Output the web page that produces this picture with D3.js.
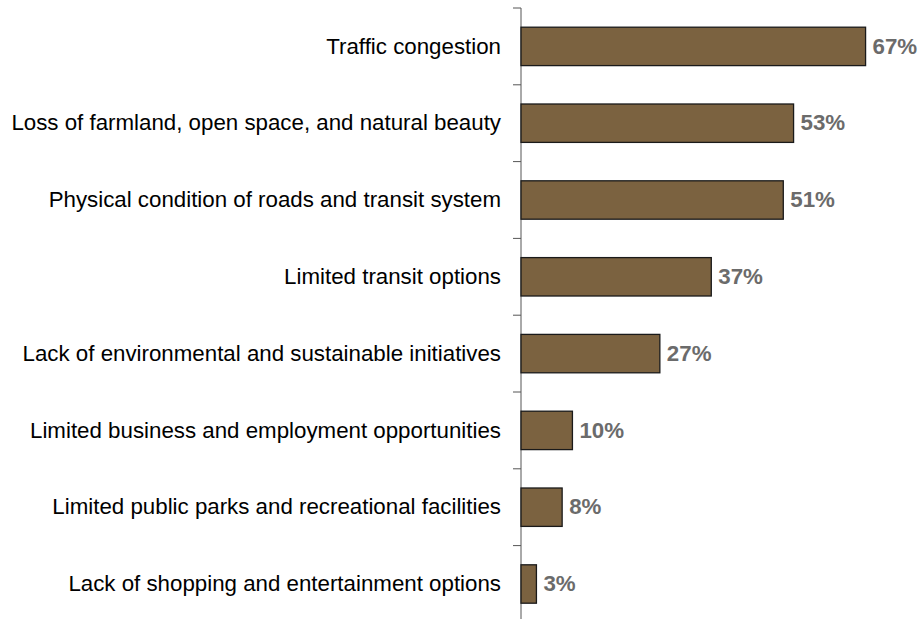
<!DOCTYPE html>
<html>
<head>
<meta charset="utf-8">
<script src="https://cdn.jsdelivr.net/npm/d3@7/dist/d3.min.js"></script>
<style>
  html, body { margin: 0; padding: 0; background: #fff; }
  svg { display: block; }
  .cat { font-family: "Liberation Sans", Arial, sans-serif; font-size: 22.3px; fill: #000; }
  .val { font-family: "Liberation Sans", Arial, sans-serif; font-size: 22.3px; font-weight: bold; fill: #6b6b6b; }
</style>
</head>
<body>
<svg id="chart" width="921" height="619"></svg>
<script>
// Survey concerns, share of respondents
const categories = [
  "Traffic congestion",
  "Loss of farmland, open space, and natural beauty",
  "Physical condition of roads and transit system",
  "Limited transit options",
  "Lack of environmental and sustainable initiatives",
  "Limited business and employment opportunities",
  "Limited public parks and recreational facilities",
  "Lack of shopping and entertainment options"
];
const values = [67, 53, 51, 37, 27, 10, 8, 3];
const valueLabels = ["67%", "53%", "51%", "37%", "27%", "10%", "8%", "3%"];

const svg = d3.select("#chart");
const axisX = 521, axisTop = 8, band = 76.8;

const x = d3.scaleLinear().domain([0, 70]).range([axisX, axisX + 360]);
const y = d3.scaleBand()
  .domain(categories)
  .range([axisTop, axisTop + band * categories.length])
  .paddingInner(0.5)
  .paddingOuter(0.25);

// category axis: vertical line with ticks at band boundaries
const g = svg.append("g");
g.append("line")
  .attr("x1", axisX).attr("x2", axisX)
  .attr("y1", y.range()[0]).attr("y2", y.range()[1])
  .attr("stroke", "#555").attr("stroke-width", 1);
g.selectAll("line.tick")
  .data(d3.range(categories.length + 1))
  .join("line")
  .attr("class", "tick")
  .attr("x1", axisX - 8).attr("x2", axisX)
  .attr("y1", i => axisTop + i * band).attr("y2", i => axisTop + i * band)
  .attr("stroke", "#555").attr("stroke-width", 1);

// bars
svg.append("g").selectAll("rect")
  .data(values)
  .join("rect")
  .attr("x", x(0))
  .attr("y", (d, i) => y(categories[i]))
  .attr("width", d => x(d) - x(0))
  .attr("height", y.bandwidth())
  .attr("fill", "#7b6240")
  .attr("stroke", "#1a1a1a")
  .attr("stroke-width", 1.3);

// category labels
svg.append("g").selectAll("text")
  .data(categories)
  .join("text")
  .attr("class", "cat")
  .attr("x", 501)
  .attr("y", d => y(d) + y.bandwidth() / 2)
  .attr("dy", "0.32em")
  .attr("text-anchor", "end")
  .text(d => d);

// value labels
svg.append("g").selectAll("text")
  .data(values)
  .join("text")
  .attr("class", "val")
  .attr("x", d => x(d) + 7)
  .attr("y", (d, i) => y(categories[i]) + y.bandwidth() / 2)
  .attr("dy", "0.32em")
  .text((d, i) => valueLabels[i]);
</script>
</body>
</html>
